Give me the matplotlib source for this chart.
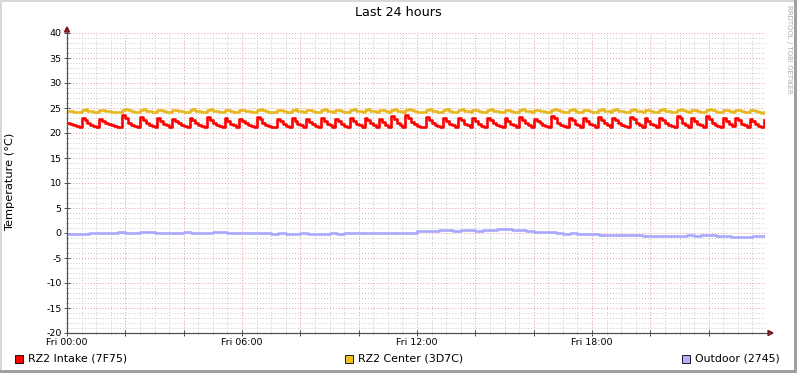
import numpy as np
import matplotlib
matplotlib.use("Agg")
import matplotlib.pyplot as plt
from matplotlib.patches import Rectangle, Polygon
from matplotlib.ticker import FixedLocator, FixedFormatter

plt.rcParams['font.family'] = ['DejaVu Sans']
plt.rcParams['axes.unicode_minus'] = False

# ---------------- data ----------------
title = "Last 24 hours"
ylabel = "Temperature (°C)"
series_names = ["RZ2 Intake (7F75)", "RZ2 Center (3D7C)", "Outdoor (2745)"]
series_colors = ["#FF0000", "#E8B820", "#A8A8FF"]
legend_colors = ["#FF0000", "#F0C020", "#B0B0FF"]
xtick_pos = [0, 6, 12, 18]
xtick_labels = ["Fri 00:00", "Fri 06:00", "Fri 12:00", "Fri 18:00"]
ytick_pos = [-20, -15, -10, -5, 0, 5, 10, 15, 20, 25, 30, 35, 40]

step_main = 0.1   # hours between samples of intake / center
step_out = 0.25   # hours between samples of outdoor

intake = [
    22.0, 21.8, 21.6, 21.4, 21.3,
    23.1, 22.6, 22.0, 21.7, 21.5, 21.3,
    22.9, 22.5, 22.1, 21.8, 21.6, 21.4, 21.3, 21.3,
    23.6, 23.1, 22.1, 21.7, 21.5, 21.3,
    23.2, 22.6, 22.0, 21.7, 21.5, 21.3,
    23.0, 22.5, 21.9, 21.6, 21.3,
    22.9, 22.4, 22.0, 21.7, 21.5, 21.3,
    23.1, 22.6, 22.0, 21.7, 21.4, 21.3,
    23.2, 22.6, 22.1, 21.7, 21.5, 21.3,
    23.0, 22.5, 21.9, 21.6, 21.3,
    22.9, 22.4, 22.0, 21.7, 21.5, 21.3,
    23.3, 22.8, 22.1, 21.7, 21.5, 21.3, 21.2,
    22.9, 22.4, 21.9, 21.5, 21.3,
    23.0, 22.5, 21.9, 21.6, 21.3,
    22.8, 22.3, 21.8, 21.5, 21.2,
    23.0, 22.5, 21.9, 21.6, 21.3,
    22.9, 22.4, 21.9, 21.5, 21.3,
    23.0, 22.5, 21.9, 21.6, 21.3,
    23.1, 22.6, 22.0, 21.6, 21.3,
    22.9, 22.3, 21.7, 21.3,
    23.4, 22.9, 22.0, 21.6, 21.3,
    23.6, 23.1, 22.2, 21.8, 21.5, 21.3, 21.2,
    23.2, 22.6, 22.0, 21.7, 21.4, 21.3,
    23.0, 22.5, 21.9, 21.6, 21.3,
    23.1, 22.6, 21.9, 21.6, 21.3,
    23.0, 22.5, 21.9, 21.5, 21.3,
    23.1, 22.6, 22.0, 21.7, 21.4, 21.3,
    23.0, 22.5, 21.9, 21.6, 21.3,
    23.2, 22.7, 22.0, 21.6, 21.3,
    22.9, 22.4, 22.0, 21.7, 21.4, 21.3,
    23.5, 23.0, 22.1, 21.7, 21.5, 21.3,
    23.1, 22.6, 21.9, 21.6, 21.3,
    23.0, 22.5, 21.9, 21.6, 21.3,
    23.2, 22.7, 22.0, 21.6, 21.3,
    23.1, 22.6, 22.0, 21.7, 21.4, 21.3,
    23.3, 22.8, 22.0, 21.6, 21.3,
    23.0, 22.5, 21.9, 21.6, 21.3,
    23.1, 22.6, 22.0, 21.7, 21.4, 21.3,
    23.5, 23.0, 22.1, 21.6, 21.3,
    23.0, 22.5, 21.9, 21.6, 21.3,
    23.4, 22.9, 22.1, 21.7, 21.4, 21.3,
    23.0, 22.4, 21.8, 21.4,
    23.1, 22.6, 21.9, 21.6, 21.3,
    22.9, 22.4, 21.9, 21.5, 21.2,
    22.7,
]

center = [
    24.45, 24.35, 24.3, 24.25, 24.3,
    24.6, 24.75, 24.5, 24.35, 24.3, 24.25,
    24.55, 24.7, 24.5, 24.4, 24.3, 24.25, 24.2, 24.25,
    24.65, 24.8, 24.55, 24.4, 24.3, 24.25,
    24.6, 24.75, 24.5, 24.35, 24.3, 24.25,
    24.6, 24.7, 24.45, 24.3, 24.25,
    24.55, 24.7, 24.5, 24.35, 24.3, 24.25,
    24.6, 24.75, 24.5, 24.35, 24.3, 24.25,
    24.65, 24.8, 24.5, 24.35, 24.3, 24.25,
    24.6, 24.7, 24.45, 24.3, 24.25,
    24.55, 24.7, 24.5, 24.35, 24.3, 24.25,
    24.65, 24.8, 24.55, 24.4, 24.3, 24.25, 24.2,
    24.6, 24.7, 24.45, 24.3, 24.25,
    24.6, 24.75, 24.5, 24.35, 24.25,
    24.55, 24.7, 24.45, 24.3, 24.2,
    24.6, 24.75, 24.5, 24.35, 24.25,
    24.6, 24.7, 24.45, 24.3, 24.25,
    24.6, 24.75, 24.5, 24.35, 24.25,
    24.65, 24.75, 24.5, 24.35, 24.25,
    24.6, 24.7, 24.4, 24.3,
    24.65, 24.8, 24.5, 24.35, 24.25,
    24.7, 24.85, 24.6, 24.4, 24.3, 24.25, 24.2,
    24.65, 24.8, 24.5, 24.35, 24.3, 24.25,
    24.6, 24.75, 24.45, 24.3, 24.25,
    24.6, 24.75, 24.5, 24.35, 24.25,
    24.6, 24.7, 24.45, 24.3, 24.25,
    24.6, 24.75, 24.5, 24.35, 24.3, 24.25,
    24.6, 24.7, 24.45, 24.3, 24.25,
    24.65, 24.8, 24.5, 24.35, 24.25,
    24.55, 24.7, 24.5, 24.35, 24.3, 24.25,
    24.7, 24.85, 24.55, 24.4, 24.3, 24.25,
    24.6, 24.75, 24.45, 24.3, 24.25,
    24.6, 24.7, 24.45, 24.3, 24.25,
    24.65, 24.8, 24.5, 24.35, 24.25,
    24.6, 24.75, 24.5, 24.35, 24.3, 24.25,
    24.65, 24.8, 24.5, 24.35, 24.25,
    24.6, 24.7, 24.45, 24.3, 24.2,
    24.6, 24.75, 24.5, 24.35, 24.3, 24.25,
    24.7, 24.85, 24.55, 24.35, 24.25,
    24.6, 24.7, 24.45, 24.3, 24.2,
    24.65, 24.8, 24.55, 24.4, 24.3, 24.25,
    24.6, 24.7, 24.4, 24.25,
    24.6, 24.7, 24.45, 24.3, 24.2,
    24.55, 24.65, 24.4, 24.25, 24.1,
    24.3,
]

outdoor = [
    -0.15, -0.15, -0.1, -0.05, -0.05, 0.0, 0.1, 0.15,
    0.05, 0.0, 0.25, 0.2, 0.1, 0.05, 0.0, 0.1,
    0.15, 0.1, 0.05, 0.1, 0.3, 0.2, 0.1, 0.0,
    0.05, 0.0, 0.1, 0.0, -0.1, -0.05, -0.15, -0.1,
    -0.05, -0.2, -0.15, -0.1, -0.05, -0.1, 0.0, -0.05,
    0.05, 0.0, 0.05, 0.1, 0.0, 0.05, 0.1, 0.05,
    0.4, 0.45, 0.5, 0.55, 0.6, 0.5, 0.55, 0.6,
    0.5, 0.6, 0.7, 0.75, 0.8, 0.6, 0.55, 0.45,
    0.3, 0.3, 0.25, 0.0, -0.1, -0.05, -0.15, -0.2,
    -0.2, -0.4, -0.35, -0.4, -0.3, -0.35, -0.45, -0.5,
    -0.55, -0.6, -0.6, -0.65, -0.5, -0.4, -0.55, -0.45,
    -0.3, -0.55, -0.65, -0.7, -0.7, -0.7, -0.65, -0.6,
    -0.6,
]

t_main = np.arange(len(intake)) * step_main
t_center = np.arange(len(center)) * step_main
t_out = np.arange(len(outdoor)) * step_out

# ---------------- figure ----------------
W, H = 797, 373
fig = plt.figure(figsize=(W / 100, H / 100), dpi=100)
fig.patch.set_facecolor("white")

def fx(px):
    return px / W

def fy(py):
    return 1 - py / H

ax = fig.add_axes([fx(67), fy(333), fx(698), 300 / H])
ax.set_facecolor("white")
ax.set_xlim(0, 23.93)
ax.set_ylim(-20, 40)

# grid
major_x = list(range(0, 24, 2))
minor_x = [h / 2 for h in range(0, 48)]
ax.xaxis.set_major_locator(FixedLocator(major_x))
ax.xaxis.set_major_formatter(FixedFormatter([xtick_labels[xtick_pos.index(h)] if h in xtick_pos else "" for h in major_x]))
ax.xaxis.set_minor_locator(FixedLocator(minor_x))
ax.yaxis.set_major_locator(FixedLocator(ytick_pos))
ax.yaxis.set_minor_locator(FixedLocator(list(range(-20, 41))))
ax.grid(which="minor", color="#C8C8C8", linestyle=(0, (1, 2)), linewidth=0.7)
ax.grid(which="major", color="#E39A9A", linestyle=(0, (1, 2)), linewidth=0.7)
ax.set_axisbelow(True)

ax.tick_params(which="major", direction="inout", length=4, width=0.7, color="#505050",
               labelsize=6.8, pad=2)
ax.tick_params(which="minor", direction="inout", length=2, width=0.5, color="#909090")
ax.tick_params(axis="x", which="major", pad=1.5)
for s in ["top", "right"]:
    ax.spines[s].set_visible(False)
for s in ["left", "bottom"]:
    ax.spines[s].set_color("#505050")
    ax.spines[s].set_linewidth(0.8)

# data lines
ax.plot(t_main, intake, color=series_colors[0], lw=1.9, drawstyle="steps-post", zorder=3)
ax.plot(t_center, center, color=series_colors[1], lw=1.9, drawstyle="steps-post", zorder=3)
ax.plot(t_out, outdoor, color=series_colors[2], lw=1.9, drawstyle="steps-post", zorder=3)

# axis extensions and arrows
fig.add_artist(plt.Line2D([fx(67), fx(67)], [fy(333), fy(30)], color="#505050", lw=0.8))
fig.add_artist(plt.Line2D([fx(67), fx(770)], [fy(333), fy(333)], color="#505050", lw=0.8))
fig.add_artist(Polygon([[fx(64.5), fy(32)], [fx(69.5), fy(32)], [fx(67), fy(27)]],
                       closed=True, color="#7A1010", transform=fig.transFigure))
fig.add_artist(Polygon([[fx(768), fy(330.5)], [fx(768), fy(335.5)], [fx(773), fy(333)]],
                       closed=True, color="#7A1010", transform=fig.transFigure))

# texts
fig.text(fx(398), fy(13), title, ha="center", va="center", fontsize=9.2, color="#000000")
fig.text(fx(10), fy(182), ylabel, ha="center", va="center", rotation=90, fontsize=8.2)
fig.text(fx(789), fy(5), "RRDTOOL / TOBI OETIKER", ha="center", va="top", rotation=270,
         fontsize=5.0, color="#AAAAAA")

# legend
leg_sq_x = [15, 345, 682]
for x0, name, col in zip(leg_sq_x, series_names, legend_colors):
    fig.add_artist(Rectangle((fx(x0), fy(363)), fx(8), 8 / H, facecolor=col,
                             edgecolor="black", lw=0.6, transform=fig.transFigure))
    fig.text(fx(x0 + 13), fy(358.5), name, ha="left", va="center", fontsize=7.9)

# border (3D frame)
fig.add_artist(Rectangle((0, 0), fx(2), 1, facecolor="#D8D8D8", edgecolor="none", transform=fig.transFigure))
fig.add_artist(Rectangle((0, fy(2)), 1, 2 / H, facecolor="#D8D8D8", edgecolor="none", transform=fig.transFigure))
fig.add_artist(Rectangle((fx(794), 0), fx(3), 1, facecolor="#A0A0A0", edgecolor="none", transform=fig.transFigure))
fig.add_artist(Rectangle((0, 0), 1, 3 / H, facecolor="#A0A0A0", edgecolor="none", transform=fig.transFigure))

fig.savefig("out.png", dpi=100)
